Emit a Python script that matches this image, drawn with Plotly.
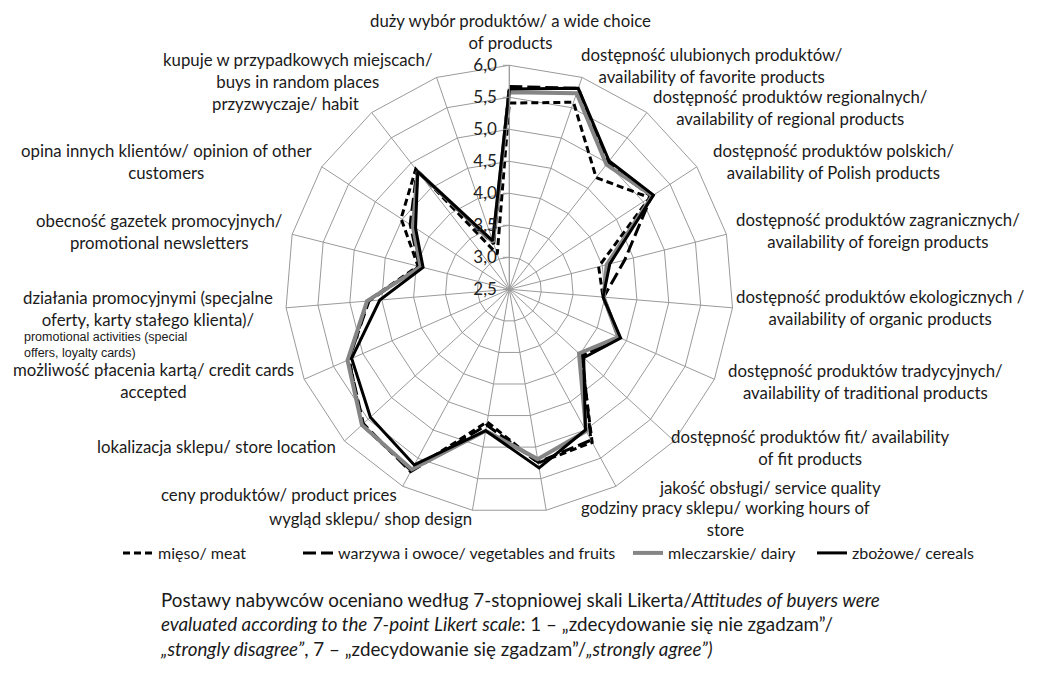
import plotly.graph_objects as go

# ---------------- data ----------------
categories = [
    "duży wybór produktów/ a wide choice<br>of products",
    "dostępność ulubionych produktów/<br>availability of favorite products",
    "dostępność produktów regionalnych/<br>availability of regional products",
    "dostępność produktów polskich/<br>availability of Polish products",
    "dostępność produktów zagranicznych/<br>availability of foreign products",
    "dostępność produktów ekologicznych /<br>availability of organic products",
    "dostępność produktów tradycyjnych/<br>availability of traditional products",
    "dostępność produktów fit/ availability<br>of fit products",
    "jakość obsługi/ service quality",
    "godziny pracy sklepu/ working hours of<br>store",
    "wygląd sklepu/ shop design",
    "ceny produktów/ product prices",
    "lokalizacja sklepu/ store location",
    "możliwość płacenia kartą/ credit cards<br>accepted",
    "działania promocyjnymi (specjalne<br>oferty, karty stałego klienta)/|promotional activities (special<br>offers, loyalty cards)",
    "obecność gazetek promocyjnych/<br>promotional newsletters",
    "opina innych klientów/ opinion of other<br>customers",
    "przyzwyczaje/ habit",
    "kupuje w przypadkowych miejscach/<br>buys in random places",
]

series_names = ["mięso/ meat", "warzywa i owoce/ vegetables and fruits",
                "mleczarskie/ dairy", "zbożowe/ cereals"]

meat = [5.41, 5.59, 4.71, 5.12, 3.94, 3.97, 4.37, 4.03, 5.22, 5.25,
        4.60, 5.72, 5.63, 5.23, 4.72, 3.97, 4.52, 4.88, 3.08]
vegetables = [5.67, 5.82, 5.00, 5.15, 4.36, 3.98, 4.38, 4.05, 5.18, 5.24,
              4.65, 5.74, 5.60, 5.24, 4.70, 3.95, 4.35, 4.85, 3.25]
dairy = [5.58, 5.74, 4.97, 5.17, 4.07, 3.98, 4.36, 3.98, 5.02, 5.19,
         4.74, 5.70, 5.63, 5.26, 4.73, 3.93, 4.30, 4.83, 3.28]
cereals = [5.63, 5.82, 5.04, 5.19, 4.12, 3.97, 4.40, 4.08, 5.00, 5.33,
           4.74, 5.62, 5.45, 5.19, 4.53, 3.89, 4.25, 4.83, 3.30]

radial_ticks = [2.5, 3.0, 3.5, 4.0, 4.5, 5.0, 5.5, 6.0]

# ---------------- styles ----------------
W, H = 1037, 682
styles = [
    dict(color="#000000", width=3, dash="7px,4px"),
    dict(color="#000000", width=3, dash="13px,5px"),
    dict(color="#858585", width=4, dash="solid"),
    dict(color="#000000", width=3, dash="solid"),
]
legend_ids = ["legend", "legend2", "legend3", "legend4"]
legend_x = [118, 298, 628, 812]
legend_y = 553

# label centre positions in pixels (x, y)
label_pos = [
    (510, 32), (712, 65), (790, 108), (833, 161), (878, 231), (880, 307),
    (865, 382), (810, 447), (770, 487), (725, 518), (370, 518), (279, 494),
    (216, 446), (153, 381), (148, 308), (159, 232), (166, 161), (285, 104),
    (298, 70),
]
sub_label_pos = (22, 345)

fig = go.Figure()
for name, vals, st, lg in zip(series_names, [meat, vegetables, dairy, cereals], styles, legend_ids):
    fig.add_trace(go.Scatterpolar(
        r=vals + vals[:1],
        theta=categories + categories[:1],
        mode="lines",
        name=name,
        legend=lg,
        line=dict(color=st["color"], width=st["width"], dash=st["dash"]),
        hoverinfo="skip",
    ))

grid = "#9a9a9a"
cx, cy, R = 509.3, 289.3, 224
layout_legends = {}
for lg, lx in zip(legend_ids, legend_x):
    layout_legends[lg] = dict(orientation="h", x=lx / W, xanchor="left",
                              y=1 - legend_y / H, yanchor="middle",
                              font=dict(family="Lato", size=16, color="#1a1a1a"),
                              itemwidth=30, bgcolor="rgba(0,0,0,0)")

fig.update_layout(
    width=W, height=H,
    margin=dict(l=0, r=0, t=0, b=0),
    paper_bgcolor="white",
    plot_bgcolor="white",
    separators=", ",
    font=dict(family="Lato, sans-serif", size=16, color="#1a1a1a"),
    showlegend=True,
    **layout_legends,
    polar=dict(
        domain=dict(x=[(cx - R) / W, (cx + R) / W],
                    y=[1 - (cy + R) / H, 1 - (cy - R) / H]),
        bgcolor="white",
        gridshape="linear",
        radialaxis=dict(
            range=[2.5, 6.0], tickvals=radial_ticks, tickformat=".1f",
            angle=90, side="counterclockwise", tickangle=90,
            showline=True, linecolor=grid, linewidth=1,
            gridcolor=grid, gridwidth=1,
            ticks="outside", ticklen=6, tickcolor=grid,
            tickfont=dict(family="Lato", size=17, color="#222222"),
        ),
        angularaxis=dict(
            direction="clockwise", rotation=90, type="category",
            showticklabels=False, ticks="",
            showline=True, linecolor=grid, linewidth=1,
            gridcolor=grid, gridwidth=1,
        ),
    ),
)

# category labels
for lab, (px, py) in zip(categories, label_pos):
    main = lab.split("|")[0]
    fig.add_annotation(text=main, x=px / W, y=1 - py / H, xref="paper", yref="paper",
                       xanchor="center", yanchor="middle", align="center",
                       showarrow=False, font=dict(family="Lato", size=16.8, color="#1a1a1a"))
    if "|" in lab:
        sub = lab.split("|")[1]
        fig.add_annotation(text=sub, x=sub_label_pos[0] / W, y=1 - sub_label_pos[1] / H,
                           xref="paper", yref="paper", xanchor="left", yanchor="middle",
                           align="left", showarrow=False,
                           font=dict(family="Liberation Sans", size=12.5, color="#1a1a1a"))

footnote = ("Postawy nabywców oceniano według 7-stopniowej skali Likerta/<i>Attitudes of buyers were</i><br>"
            "<i>evaluated according to the 7-point Likert scale</i>: 1 – „zdecydowanie się nie zgadzam”/<br>"
            "<i>„strongly disagree”</i>, 7 – „zdecydowanie się zgadzam”/<i>„strongly agree”)</i>")
fig.add_annotation(text=footnote, x=158 / W, y=1 - 586 / H, xref="paper", yref="paper",
                   xanchor="left", yanchor="top", align="left", showarrow=False,
                   font=dict(family="Lato", size=18.8, color="#1a1a1a"))

fig.write_html("out.html", config={"displayModeBar": False},
               post_script="document.body.style.margin='0';")
